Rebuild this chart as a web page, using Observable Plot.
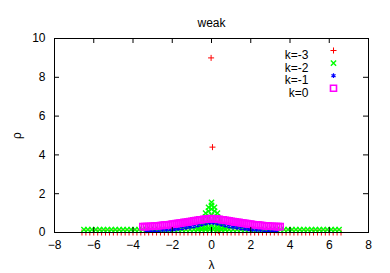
<!DOCTYPE html>
<html>
<head>
<meta charset="utf-8">
<script src="https://cdn.jsdelivr.net/npm/d3@7"></script>
<script src="https://cdn.jsdelivr.net/npm/@observablehq/plot@0.6"></script>
<style>
  html, body { margin: 0; padding: 0; background: #fff; }
  #chart svg { display: block; }
</style>
</head>
<body>
<div id="chart"></div>
<script>
const title = "weak";
const xLabel = "λ";
const yLabel = "ρ";
const xTicks = [-8, -6, -4, -2, 0, 2, 4, 6, 8];
const yTicks = [0, 2, 4, 6, 8, 10];
const seriesNames = ["k=-3", "k=-2", "k=-1", "k=0"];
const seriesColors = ["#ff0000", "#00ff00", "#0000ff", "#ff00ff"];
const seriesSymbols = ["plus", "times", "asterisk", "square"];

// k=-3 : [lambda, rho]
const k3 = [
  [-6.6,0],[-6.4,0],[-6.2,0],[-6.0,0],[-5.8,0],[-5.6,0],[-5.4,0],[-5.2,0],[-5.0,0],[-4.8,0],
  [-4.6,0],[-4.4,0],[-4.2,0],[-4.0,0],[-3.8,0],[-3.6,0],[-3.4,0],[-3.2,0],[-3.0,0],[-2.8,0],
  [-2.6,0],[-2.4,0],[-2.2,0],[-2.0,0],[-1.8,0],[-1.6,0],[-1.4,0],[-1.2,0],[-1.0,0],[-0.8,0],
  [-0.6,0],[-0.4,0],[-0.2,0],[0,0],[0.2,0],[0.4,0],[0.6,0],[0.8,0],[1.0,0],[1.2,0],
  [1.4,0],[1.6,0],[1.8,0],[2.0,0],[2.2,0],[2.4,0],[2.6,0],[2.8,0],[3.0,0],[3.2,0],
  [3.4,0],[3.6,0],[3.8,0],[4.0,0],[4.2,0],[4.4,0],[4.6,0],[4.8,0],[5.0,0],[5.2,0],
  [5.4,0],[5.6,0],[5.8,0],[6.0,0],[6.2,0],[6.4,0],[6.6,0],
  [-0.6,0.1],[0.35,0.08],[0.05,4.4],[-0.02,9.0]
];

// k=-2
const k2 = [
  [-6.5,0.15],[-6.3,0.15],[-6.1,0.15],[-5.9,0.15],[-5.7,0.15],[-5.5,0.15],[-5.3,0.15],[-5.1,0.15],
  [-4.9,0.15],[-4.7,0.15],[-4.5,0.15],[-4.3,0.15],[-4.1,0.15],[-3.9,0.15],[-3.7,0.15],[-3.5,0.15],
  [-3.3,0.15],[-3.1,0.15],[-2.9,0.15],[-2.7,0.15],[-2.5,0.15],[-2.3,0.15],[-2.1,0.15],[-1.9,0.15],
  [-1.7,0.15],[-1.5,0.15],[-1.3,0.15],[-1.1,0.15],[-0.9,0.15],[-0.7,0.15],[-0.5,0.15],[-0.3,0.15],
  [-0.1,0.15],[0.1,0.15],[0.3,0.15],[0.5,0.15],[0.7,0.15],[0.9,0.15],[1.1,0.15],[1.3,0.15],
  [1.5,0.15],[1.7,0.15],[1.9,0.15],[2.1,0.15],[2.3,0.15],[2.5,0.15],[2.7,0.15],[2.9,0.15],
  [3.1,0.15],[3.3,0.15],[3.5,0.15],[3.7,0.15],[3.9,0.15],[4.1,0.15],[4.3,0.15],[4.5,0.15],
  [4.7,0.15],[4.9,0.15],[5.1,0.15],[5.3,0.15],[5.5,0.15],[5.7,0.15],[5.9,0.15],[6.1,0.15],
  [6.3,0.15],[6.5,0.15],
  [-0.7,0.2],[-0.6,0.25],[-0.6,0.4],
  [-0.45,0.25],[-0.45,0.45],[-0.45,0.7],
  [-0.3,0.25],[-0.3,0.5],[-0.3,0.8],[-0.3,1.0],
  [-0.15,0.25],[-0.15,0.5],[-0.15,0.8],[-0.15,1.1],[-0.15,1.3],
  [0,0.3],[0,0.6],[0,0.9],[0,1.2],[0,1.4],[0,1.55],
  [0.15,0.25],[0.15,0.5],[0.15,0.8],[0.15,1.1],[0.15,1.3],
  [0.3,0.25],[0.3,0.5],[0.3,0.8],[0.3,1.0],
  [0.45,0.25],[0.45,0.45],[0.45,0.7],
  [0.6,0.25],[0.6,0.4],[0.7,0.2]
];

// k=-1
const k1 = [
  [-3.3,0.08],[-3.1,0.09],[-2.9,0.1],[-2.7,0.11],[-2.5,0.12],[-2.3,0.13],[-2.1,0.15],[-1.9,0.17],
  [-1.7,0.19],[-1.5,0.22],[-1.3,0.25],[-1.1,0.28],[-0.9,0.32],[-0.7,0.37],[-0.5,0.42],[-0.3,0.47],
  [-0.1,0.5],[0.1,0.5],[0.3,0.47],[0.5,0.42],[0.7,0.37],[0.9,0.32],[1.1,0.28],[1.3,0.25],
  [1.5,0.22],[1.7,0.19],[1.9,0.17],[2.1,0.15],[2.3,0.13],[2.5,0.12],[2.7,0.11],[2.9,0.1],
  [3.1,0.09],[3.3,0.08]
];

// k=0
const k0 = [
  [-3.5,0.3],[-3.4,0.3],[-3.3,0.31],[-3.2,0.31],[-3.1,0.32],[-3.0,0.32],[-2.9,0.33],[-2.8,0.34],
  [-2.7,0.35],[-2.6,0.36],[-2.5,0.37],[-2.4,0.38],[-2.3,0.39],[-2.2,0.4],[-2.1,0.41],[-2.0,0.43],
  [-1.9,0.44],[-1.8,0.46],[-1.7,0.47],[-1.6,0.49],[-1.5,0.5],[-1.4,0.52],[-1.3,0.53],[-1.2,0.55],
  [-1.1,0.56],[-1.0,0.58],[-0.9,0.6],[-0.8,0.62],[-0.7,0.63],[-0.6,0.65],[-0.5,0.66],[-0.4,0.68],
  [-0.3,0.69],[-0.2,0.7],[-0.1,0.71],[0,0.72],[0.1,0.71],[0.2,0.7],[0.3,0.69],[0.4,0.68],
  [0.5,0.66],[0.6,0.65],[0.7,0.63],[0.8,0.62],[0.9,0.6],[1.0,0.58],[1.1,0.56],[1.2,0.55],
  [1.3,0.53],[1.4,0.52],[1.5,0.5],[1.6,0.49],[1.7,0.47],[1.8,0.46],[1.9,0.44],[2.0,0.43],
  [2.1,0.41],[2.2,0.4],[2.3,0.39],[2.4,0.38],[2.5,0.37],[2.6,0.36],[2.7,0.35],[2.8,0.34],
  [2.9,0.33],[3.0,0.32],[3.1,0.32],[3.2,0.31],[3.3,0.31],[3.4,0.3],[3.5,0.3]
];

const allSeries = [k3, k2, k1, k0];
const markerR = [2.1, 2.5, 2.2, 3.4];
const markerW = [1, 1.4, 1.2, 1.6];

const font = "'Liberation Sans', Arial, Helvetica, sans-serif";

const W = 390, H = 273, mL = 54, mR = 22, mT = 38, mB = 41;
const tickLen = 5;
const frameW = W - mL - mR, frameH = H - mT - mB;

const marks = [
  Plot.axisX(xTicks, {anchor: "bottom", tickSize: 0, tickPadding: 8, fontSize: 12,
    label: xLabel, labelAnchor: "center", labelArrow: "none", labelOffset: 36}),
  Plot.axisY(yTicks, {anchor: "left", tickSize: 0, tickPadding: 9, fontSize: 12,
    label: yLabel, labelAnchor: "center", labelArrow: "none", labelOffset: 42})
];

allSeries.forEach((s, i) => {
  marks.push(Plot.dot(s, {
    x: d => d[0], y: d => d[1],
    symbol: () => seriesSymbols[i],
    r: markerR[i],
    stroke: seriesColors[i],
    fill: "none",
    strokeWidth: markerW[i]
  }));
});

// inward ticks on all four sides, and the border, drawn over the data
marks.push(
  Plot.tickX(xTicks, {x: d => d, insetTop: frameH - tickLen, stroke: "black", strokeWidth: 1}),
  Plot.tickX(xTicks, {x: d => d, insetBottom: frameH - tickLen, stroke: "black", strokeWidth: 1}),
  Plot.tickY(yTicks, {y: d => d, insetRight: frameW - tickLen, stroke: "black", strokeWidth: 1}),
  Plot.tickY(yTicks, {y: d => d, insetLeft: frameW - tickLen, stroke: "black", strokeWidth: 1}),
  Plot.frame({stroke: "black", strokeWidth: 1})
);

seriesNames.forEach((name, i) => {
  const dy = 12 + 12.6 * i;
  marks.push(Plot.text([name], {
    text: d => d, frameAnchor: "top-right", dx: -60, dy,
    textAnchor: "end", fontSize: 12, fill: "black"
  }));
  marks.push(Plot.dot([name], {
    frameAnchor: "top-right", dx: -35, dy,
    symbol: () => seriesSymbols[i], r: markerR[i],
    stroke: seriesColors[i], fill: "none", strokeWidth: markerW[i]
  }));
});

marks.push(Plot.text([title], {text: d => d, frameAnchor: "top", dy: -20, fontSize: 12, fill: "black"}));

const chart = Plot.plot({
  width: W,
  height: H,
  marginLeft: mL,
  marginRight: mR,
  marginTop: mT,
  marginBottom: mB,
  style: {fontFamily: font, fontSize: "12px", background: "white", color: "black"},
  x: {domain: [-8, 8]},
  y: {domain: [0, 10]},
  symbol: {type: "identity"},
  marks
});
document.getElementById("chart").appendChild(chart);
</script>
</body>
</html>
